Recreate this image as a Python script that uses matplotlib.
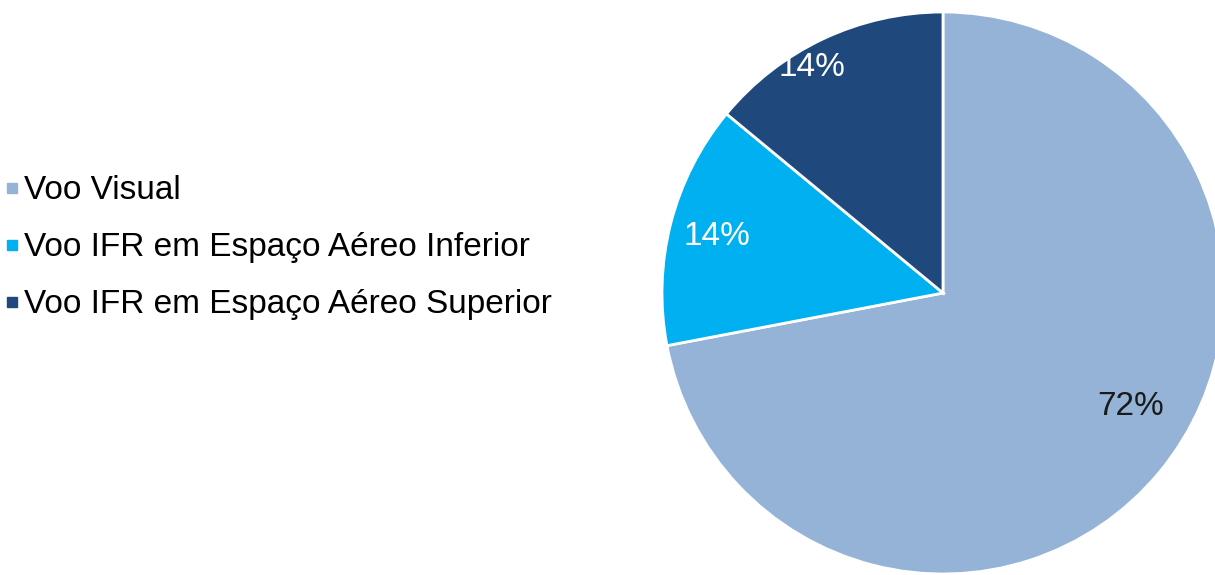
import matplotlib.pyplot as plt
from matplotlib.lines import Line2D
import numpy as np

plt.rcParams['font.family'] = ['Liberation Sans', 'DejaVu Sans']

# dados
categorias = ['Voo Visual', 'Voo IFR em Espaço Aéreo Inferior', 'Voo IFR em Espaço Aéreo Superior']
valores = [72, 14, 14]
cores = ['#95B3D7', '#00B0F0', '#1F497D']
cores_texto = ['#1a1a1a', 'white', 'white']

fig = plt.figure(figsize=(12.15, 5.75), dpi=100)

# pie axes: centro ~ (943, 293) px, raio ~281 px
cx, cy, r = 943, 293, 281
ax = fig.add_axes([(cx - r) / 1215, (575 - cy - r) / 575, 2 * r / 1215, 2 * r / 575])
wedges, textos = ax.pie(valores, colors=cores, startangle=90, counterclock=False,
                        wedgeprops=dict(edgecolor='white', linewidth=2))
ax.set_xlim(-1, 1)
ax.set_ylim(-1, 1)
ax.set_aspect('equal')
ax.axis('off')
for w in wedges:
    w.set_clip_on(False)

# rótulos de percentagem (posição tipo "melhor ajuste" do Excel)
dist = [0.78, 0.83, 0.93]
desvio = [8.5, 0.5, 5]
for w, v, d, off, c in zip(wedges, valores, dist, desvio, cores_texto):
    ang = np.deg2rad((w.theta1 + w.theta2) / 2 + off)
    ax.text(d * np.cos(ang), d * np.sin(ang), f'{v}%', ha='center', va='center',
            fontsize=24, color=c)

# legenda
handles = [Line2D([0], [0], marker='s', linestyle='none', markersize=6.5,
                  markerfacecolor=c, markeredgecolor=c) for c in cores]
fig.legend(handles, categorias, loc='upper left', bbox_to_anchor=(0.006, 0.695),
           frameon=False, fontsize=24, handlelength=0.3, handletextpad=0.2,
           labelspacing=0.78, borderpad=0, borderaxespad=0)

fig.savefig('out.png', dpi=100)
